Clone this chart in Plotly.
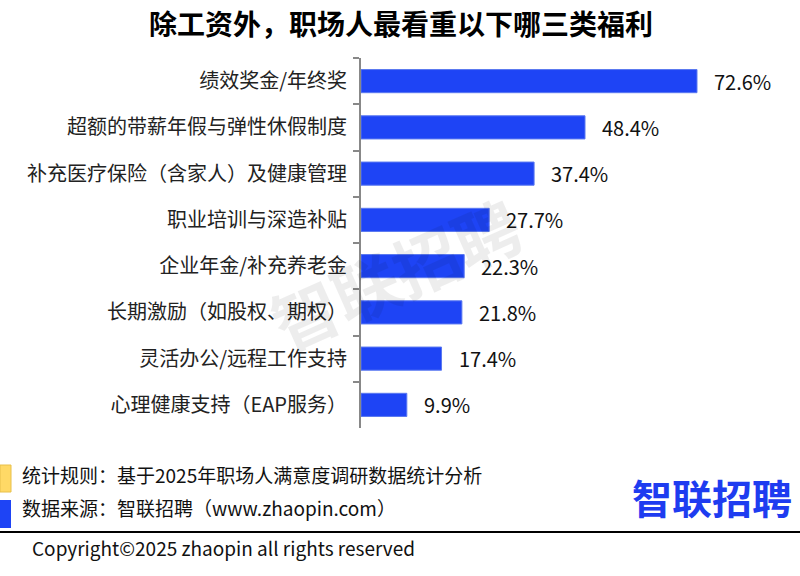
import plotly.graph_objects as go

categories = ["绩效奖金/年终奖", "超额的带薪年假与弹性休假制度", "补充医疗保险（含家人）及健康管理",
              "职业培训与深造补贴", "企业年金/补充养老金", "长期激励（如股权、期权）",
              "灵活办公/远程工作支持", "心理健康支持（EAP服务）"]
values = [72.6, 48.4, 37.4, 27.7, 22.3, 21.8, 17.4, 9.9]
value_labels = [f"{v:.1f}%" for v in values]

title = "除工资外，职场人最看重以下哪三类福利"
note1 = "统计规则：基于2025年职场人满意度调研数据统计分析"
note2 = "数据来源：智联招聘（www.zhaopin.com）"
copyright_text = "Copyright©2025 zhaopin all rights reserved"
logo_text = "智联招聘"

W, H = 800, 576
L, R, T, B = 361, 23, 58, 148
PW, PH = W - L - R, H - T - B
FONT = "Noto Sans CJK SC, Noto Sans, sans-serif"
BLUE = "#1E44F5"

def px(x):
    return (x - L) / PW

def py(y):
    return (H - B - y) / PH

fig = go.Figure(go.Bar(
    x=values, y=categories, orientation="h",
    marker=dict(color=BLUE, line=dict(color="#5A78F0", width=1)),
    width=0.5,
))

annotations = []
for c, v, t in zip(categories, values, value_labels):
    annotations.append(dict(x=v, y=c, xref="x", yref="y", text=t, showarrow=False,
                            xanchor="left", xshift=15,
                            font=dict(family=FONT, size=20, color="#111")))

annotations += [
    dict(text=f"<b>{title}</b>", x=px(401), y=py(23), xref="paper", yref="paper",
         showarrow=False, xanchor="center", yanchor="middle",
         font=dict(family=FONT, size=28, color="#000")),
    dict(text=note1, x=px(20), y=py(474), xref="paper", yref="paper", showarrow=False,
         xanchor="left", yanchor="middle", font=dict(family=FONT, size=19, color="#111")),
    dict(text=note2, x=px(20), y=py(507), xref="paper", yref="paper", showarrow=False,
         xanchor="left", yanchor="middle", font=dict(family=FONT, size=19, color="#111")),
    dict(text=copyright_text, x=px(30), y=py(547), xref="paper", yref="paper", showarrow=False,
         xanchor="left", yanchor="middle", font=dict(family=FONT, size=19, color="#111")),
    dict(text=f"<b>{logo_text}</b>", x=px(712), y=py(497), xref="paper", yref="paper",
         showarrow=False, xanchor="center", yanchor="middle",
         font=dict(family=FONT, size=40, color="#1E3CF0")),
    dict(text=f"<b>{logo_text}</b>", x=px(395), y=py(272), xref="paper", yref="paper",
         showarrow=False, xanchor="center", yanchor="middle", textangle=-24,
         font=dict(family=FONT, size=66, color="rgba(0,0,0,0.07)")),
]

shapes = [
    dict(type="rect", xref="paper", yref="paper", x0=px(0), x1=px(11), y0=py(492), y1=py(465),
         fillcolor="#FFD966", line=dict(color="#E8C04A", width=1)),
    dict(type="rect", xref="paper", yref="paper", x0=px(0), x1=px(11), y0=py(528), y1=py(500),
         fillcolor=BLUE, line=dict(width=0)),
    dict(type="line", xref="paper", yref="paper", x0=px(0), x1=px(800), y0=py(532), y1=py(532),
         line=dict(color="#000", width=2)),
]

fig.update_layout(
    width=W, height=H,
    margin=dict(l=L, r=R, t=T, b=B, pad=0),
    paper_bgcolor="white", plot_bgcolor="white",
    showlegend=False,
    xaxis=dict(range=[0, PW / 4.628], visible=False, fixedrange=True),
    yaxis=dict(autorange="reversed", tickson="boundaries", ticks="outside", ticklen=6,
               tickcolor="#888", tickwidth=2, showline=True, linecolor="#888", linewidth=2,
               ticklabelstandoff=8, showgrid=False, fixedrange=True,
               tickfont=dict(family=FONT, size=20, color="#222")),
    annotations=annotations,
    shapes=shapes,
)

fig.write_html("out.html", config={"displayModeBar": False},
               post_script="document.body.style.margin='0';document.body.style.overflow='hidden';")
